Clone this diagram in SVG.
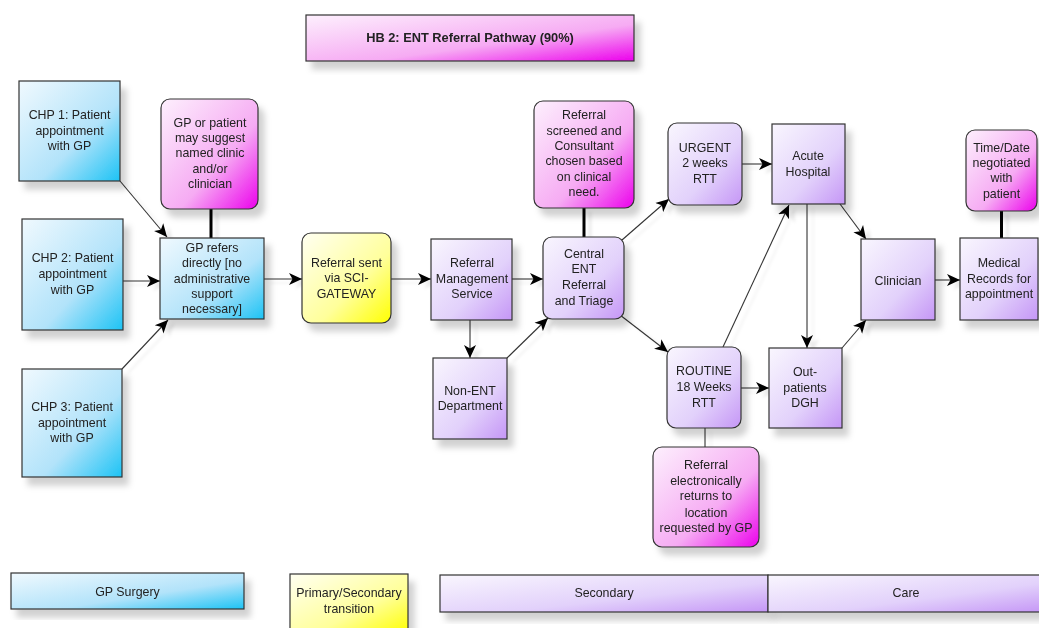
<svg xmlns="http://www.w3.org/2000/svg" width="1039" height="628" viewBox="0 0 1039 628">
<style>
text{font-family:"Liberation Sans",Arial,sans-serif;font-size:12.4px;fill:#222;text-anchor:middle}
.title{font-weight:bold;font-size:12.8px}
.box{stroke:#333;stroke-width:1.2}
.blue{fill:url(#gBlue)}
.purple{fill:url(#gPurple)}
.pink{fill:url(#gPink)}
.yellow{fill:url(#gYellow)}
.conn{stroke:#333;stroke-width:1.1;fill:none}
.arr{marker-end:url(#ah)}
.thick{stroke:#000;stroke-width:3;fill:none}
</style>
<defs>
<linearGradient id="gBlue" x1="0" y1="0" x2="1" y2="1"><stop offset="0" stop-color="#f0f9fe"/><stop offset="0.6" stop-color="#b2e3fa"/><stop offset="1" stop-color="#1cc3f5"/></linearGradient>
<linearGradient id="gPurple" x1="0" y1="0" x2="1" y2="1"><stop offset="0" stop-color="#f9f6fe"/><stop offset="0.6" stop-color="#e2d1fb"/><stop offset="1" stop-color="#c596f6"/></linearGradient>
<linearGradient id="gPink" x1="0" y1="0" x2="1" y2="1"><stop offset="0" stop-color="#fdf0fd"/><stop offset="0.6" stop-color="#f6abf3"/><stop offset="1" stop-color="#ec00ec"/></linearGradient>
<linearGradient id="gYellow" x1="0" y1="0" x2="1" y2="1"><stop offset="0" stop-color="#fffff2"/><stop offset="0.6" stop-color="#ffff9a"/><stop offset="1" stop-color="#ffff00"/></linearGradient>
<filter id="sh" x="-20%" y="-20%" width="150%" height="150%"><feDropShadow dx="6" dy="8" stdDeviation="3" flood-color="#000" flood-opacity="0.18"/></filter>
<filter id="shl" x="-20%" y="-20%" width="150%" height="150%"><feDropShadow dx="6" dy="4" stdDeviation="1.5" flood-color="#000" flood-opacity="0.08"/></filter>
<marker id="ah" markerUnits="userSpaceOnUse" markerWidth="14" markerHeight="14" refX="13" refY="7" orient="auto"><path d="M0,1 L13,7 L0,13 L3.5,7 z" fill="#000"/></marker>
</defs>
<rect width="1039" height="628" fill="#fff"/>

<g id="title" filter="url(#sh)"><rect class="box pink" x="306" y="15" width="328" height="46"/><text class="title" x="470" y="42">HB 2: ENT Referral Pathway (90%)</text></g>

<g id="connectors" filter="url(#shl)">
<line class="conn arr" x1="120" y1="181" x2="167" y2="237"/>
<line class="conn arr" x1="123" y1="281" x2="160" y2="281"/>
<line class="conn arr" x1="122" y1="369" x2="168" y2="320"/>
<line class="thick" x1="211" y1="209" x2="211" y2="238"/>
<line class="conn arr" x1="264" y1="279" x2="302" y2="279"/>
<line class="conn arr" x1="391" y1="279" x2="431" y2="279"/>
<line class="conn arr" x1="512" y1="279" x2="543" y2="279"/>
<line class="conn arr" x1="470" y1="320" x2="470" y2="358"/>
<line class="conn arr" x1="507" y1="358" x2="548" y2="318"/>
<line class="thick" x1="584" y1="208" x2="584" y2="237"/>
<line class="conn arr" x1="622" y1="240" x2="669" y2="199"/>
<line class="conn arr" x1="742" y1="164" x2="772" y2="164"/>
<line class="conn arr" x1="620" y1="315" x2="668" y2="352"/>
<line class="conn arr" x1="741" y1="388" x2="769" y2="388"/>
<line class="conn arr" x1="723" y1="347" x2="789" y2="205"/>
<line class="conn arr" x1="807" y1="204" x2="807" y2="348"/>
<line class="conn arr" x1="840" y1="204" x2="866" y2="239"/>
<line class="conn arr" x1="842" y1="348" x2="866" y2="320"/>
<line class="conn arr" x1="935" y1="280" x2="960" y2="280"/>
<line class="thick" x1="1001.5" y1="211" x2="1001.5" y2="238"/>
<line class="conn" x1="705" y1="428" x2="705" y2="447"/>
</g>

<g id="chp1" filter="url(#sh)"><rect class="box blue" x="19" y="81" width="101" height="100"/><text x="69.5" y="119">CHP 1: Patient</text><text x="69.5" y="135">appointment</text><text x="69.5" y="150">with GP</text></g>
<g id="chp2" filter="url(#sh)"><rect class="box blue" x="22" y="219" width="101" height="111"/><text x="72.5" y="262">CHP 2: Patient</text><text x="72.5" y="278">appointment</text><text x="72.5" y="294">with GP</text></g>
<g id="chp3" filter="url(#sh)"><rect class="box blue" x="22" y="369" width="100" height="108"/><text x="72" y="411">CHP 3: Patient</text><text x="72" y="427">appointment</text><text x="72" y="442">with GP</text></g>

<g id="gpnote" filter="url(#sh)"><rect class="box pink" x="161" y="99" width="97" height="110" rx="9"/><text x="210" y="127">GP or patient</text><text x="210" y="142">may suggest</text><text x="210" y="157">named clinic</text><text x="210" y="173">and/or</text><text x="210" y="188">clinician</text></g>
<g id="gprefers" filter="url(#sh)"><rect class="box blue" x="160" y="238" width="104" height="81"/><text x="212" y="252">GP refers</text><text x="212" y="267">directly [no</text><text x="212" y="283">administrative</text><text x="212" y="298">support</text><text x="212" y="313">necessary]</text></g>

<g id="scigateway" filter="url(#sh)"><rect class="box yellow" x="302" y="233" width="89" height="90" rx="9"/><text x="346.5" y="267">Referral sent</text><text x="346.5" y="282">via SCI-</text><text x="346.5" y="298">GATEWAY</text></g>
<g id="rms" filter="url(#sh)"><rect class="box purple" x="431" y="239" width="81" height="81"/><text x="472" y="267">Referral</text><text x="472" y="283">Management</text><text x="472" y="298">Service</text></g>
<g id="nonent" filter="url(#sh)"><rect class="box purple" x="433" y="358" width="74" height="81"/><text x="470" y="395">Non-ENT</text><text x="470" y="410">Department</text></g>

<g id="screened" filter="url(#sh)"><rect class="box pink" x="534" y="101" width="100" height="107" rx="9"/><text x="584" y="119">Referral</text><text x="584" y="135">screened and</text><text x="584" y="150">Consultant</text><text x="584" y="165">chosen based</text><text x="584" y="181">on clinical</text><text x="584" y="196">need.</text></g>
<g id="central" filter="url(#sh)"><rect class="box purple" x="543" y="237" width="81" height="82" rx="9"/><text x="584" y="258">Central</text><text x="584" y="273">ENT</text><text x="584" y="289">Referral</text><text x="584" y="305">and Triage</text></g>

<g id="urgent" filter="url(#sh)"><rect class="box purple" x="668" y="123" width="74" height="82" rx="9"/><text x="705" y="152">URGENT</text><text x="705" y="167">2 weeks</text><text x="705" y="183">RTT</text></g>
<g id="routine" filter="url(#sh)"><rect class="box purple" x="667" y="347" width="74" height="81" rx="9"/><text x="704" y="375">ROUTINE</text><text x="704" y="391">18 Weeks</text><text x="704" y="407">RTT</text></g>
<g id="returns" filter="url(#sh)"><rect class="box pink" x="653" y="447" width="106" height="100" rx="9"/><text x="706" y="469">Referral</text><text x="706" y="485">electronically</text><text x="706" y="500">returns to</text><text x="706" y="517">location</text><text x="706" y="532">requested by GP</text></g>

<g id="acute" filter="url(#sh)"><rect class="box purple" x="772" y="124" width="73" height="80"/><text x="808" y="160">Acute</text><text x="808" y="176">Hospital</text></g>
<g id="outpatients" filter="url(#sh)"><rect class="box purple" x="769" y="348" width="73" height="80"/><text x="805" y="376">Out-</text><text x="805" y="392">patients</text><text x="805" y="407">DGH</text></g>
<g id="clinician" filter="url(#sh)"><rect class="box purple" x="861" y="239" width="74" height="81"/><text x="898" y="285">Clinician</text></g>
<g id="timedate" filter="url(#sh)"><rect class="box pink" x="966" y="130" width="71" height="81" rx="9"/><text x="1001.5" y="152">Time/Date</text><text x="1001.5" y="167">negotiated</text><text x="1001.5" y="182">with</text><text x="1001.5" y="198">patient</text></g>
<g id="medical" filter="url(#sh)"><rect class="box purple" x="960" y="238" width="78" height="82"/><text x="999" y="267">Medical</text><text x="999" y="283">Records for</text><text x="999" y="298">appointment</text></g>

<g id="legend-gp" filter="url(#sh)"><rect class="box blue" x="11" y="573" width="233" height="36"/><text x="127.5" y="596">GP Surgery</text></g>
<g id="legend-transition" filter="url(#sh)"><rect class="box yellow" x="290" y="574" width="118" height="60"/><text x="349" y="597">Primary/Secondary</text><text x="349" y="613">transition</text></g>
<g id="legend-secondary" filter="url(#sh)"><rect class="box purple" x="440" y="575" width="328" height="37"/><text x="604" y="597">Secondary</text></g>
<g id="legend-care" filter="url(#sh)"><rect class="box purple" x="768" y="575" width="280" height="37"/><text x="906" y="597">Care</text></g>
</svg>
